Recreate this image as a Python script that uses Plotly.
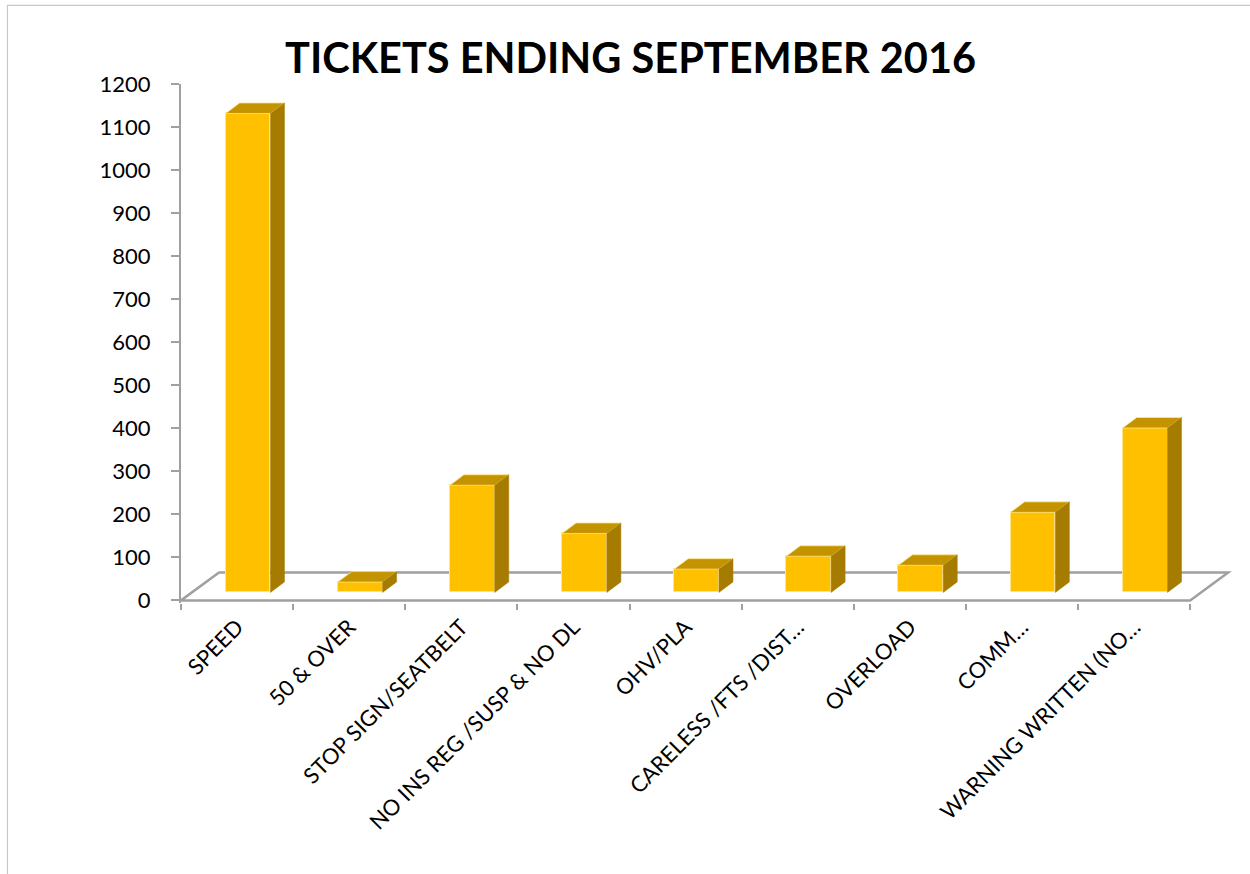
import plotly.graph_objects as go

# ---- data ----
categories = ["SPEED", "50 & OVER", "STOP SIGN/SEATBELT", "NO INS REG /SUSP & NO DL",
              "OHV/PLA", "CARELESS /FTS /DIST…", "OVERLOAD", "COMM…", "WARNING WRITTEN (NO…"]
tickets = [1113, 24, 249, 137, 54, 84, 63, 186, 382]
y_ticks = list(range(0, 1201, 100))
title_text = "TICKETS ENDING SEPTEMBER 2016"

# ---- geometry / style (pseudo-3D) ----
W, H = 1250, 874
px_left, px_right = 181.0, 1234.7
px_top, px_bottom = 84.0, 602.6
x_range = [0, 9.4]
y_range = [-6, 1200]
bar_w = 0.40          # front face width (category units)
off_x = 0.098         # shift of bar front plane (depth) in x
off_y = 18.6          # shift of bar front plane (depth) in y
depth_x = 0.125       # bar depth in x
depth_y = 24.4        # bar depth in y
floor_dx = 0.339
floor_dy = 65.0
front_col = "#FFC000"
top_col = "#C49300"
side_col = "#A67C00"
edge_col = "rgba(255,228,140,1)"
axis_col = "#A0A0A0"
font_fam = "Lato, Carlito, 'Open Sans', sans-serif"

n = len(categories)
centers = [i + 0.5 + off_x for i in range(n)]

fig = go.Figure()

# front faces
fig.add_trace(go.Bar(
    x=centers, y=tickets, base=[off_y] * n, width=bar_w,
    marker=dict(color=front_col, line=dict(color=edge_col, width=1)),
    hoverinfo="skip", showlegend=False))

# top faces
tx, ty = [], []
for c, v in zip(centers, tickets):
    t = off_y + v
    l, r = c - bar_w / 2, c + bar_w / 2
    tx += [l, r, r + depth_x, l + depth_x, l, None]
    ty += [t, t, t + depth_y, t + depth_y, t, None]
fig.add_trace(go.Scatter(x=tx, y=ty, fill="toself", fillcolor=top_col, mode="lines",
                         line=dict(color=edge_col, width=0.8), hoverinfo="skip", showlegend=False))

# side faces
sx, sy = [], []
for c, v in zip(centers, tickets):
    t = off_y + v
    r = c + bar_w / 2
    sx += [r, r + depth_x, r + depth_x, r, r, None]
    sy += [off_y, off_y + depth_y, t + depth_y, t, off_y, None]
fig.add_trace(go.Scatter(x=sx, y=sy, fill="toself", fillcolor=side_col, mode="lines",
                         line=dict(color=side_col, width=0.5), hoverinfo="skip", showlegend=False))

# floor outline (below traces)
floor_path = (f"M 0,0 L {n},0 L {n + floor_dx},{floor_dy} L {floor_dx},{floor_dy} Z")
fig.add_shape(type="path", path=floor_path, xref="x", yref="y", layer="below",
              line=dict(color=axis_col, width=2.5))

# outer border
fig.add_shape(type="rect", xref="paper", yref="paper",
              x0=(7.5 - px_left) / (px_right - px_left), x1=1.2,
              y0=-1, y1=(px_bottom - 5.5) / (px_bottom - px_top),
              line=dict(color="#C8C8C8", width=1.2), layer="below")

fig.add_annotation(text=title_text, xref="paper", yref="paper",
                   x=(630 - px_left) / (px_right - px_left),
                   y=(px_bottom - 57) / (px_bottom - px_top),
                   xanchor="center", yanchor="middle", showarrow=False,
                   font=dict(family=font_fam, size=41.5, color="#000000", weight="bold"))

fig.update_layout(
    width=W, height=H,
    margin=dict(l=px_left, r=W - px_right, t=px_top, b=H - px_bottom, autoexpand=False),
    paper_bgcolor="white", plot_bgcolor="rgba(0,0,0,0)",
    showlegend=False, bargap=0,
    xaxis=dict(range=x_range, tickmode="array", tickvals=[i + 0.5 for i in range(n)],
               ticktext=categories, tickangle=-45, ticks="", showgrid=False, zeroline=False,
               showline=False, ticklabelstandoff=6,
               tickfont=dict(family=font_fam, size=22, color="#000000"),
               minor=dict(tickmode="array", tickvals=list(range(n + 1)), ticks="outside",
                          ticklen=6, tickwidth=1.5, tickcolor=axis_col, showgrid=False),
               fixedrange=True),
    yaxis=dict(range=y_range, tickmode="array", tickvals=y_ticks, ticks="outside",
               ticklen=8, tickwidth=1.5, tickcolor=axis_col, showline=True,
               linecolor=axis_col, linewidth=2, showgrid=False, zeroline=False,
               ticklabelstandoff=16,
               tickfont=dict(family=font_fam, size=22, color="#000000"), fixedrange=True),
)

fig.write_html("out.html")
